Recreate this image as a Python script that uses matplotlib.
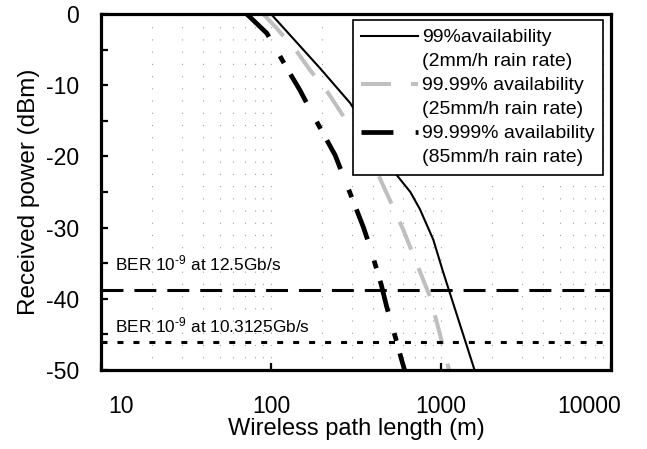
import matplotlib
matplotlib.use('Agg')
import matplotlib.pyplot as plt
import matplotlib.transforms as mtransforms
from matplotlib.lines import Line2D
from matplotlib.ticker import FixedLocator, LogLocator, NullFormatter

plt.rcParams['font.family'] = ['Liberation Sans', 'DejaVu Sans']
plt.rcParams['mathtext.default'] = 'regular'
plt.rcParams['axes.unicode_minus'] = False
plt.rcParams['lines.scale_dashes'] = False

# curve data (path length in m, received power in dBm)
dist_99 = [100, 194, 292, 548, 660, 751, 901, 1028, 1585]
pow_99 = [0, -7.6, -12.5, -22.6, -25.0, -27.4, -31.7, -36.2, -50.2]

dist_9999 = [90, 108, 142, 170, 217, 292, 428, 600, 788, 861, 964, 1130]
pow_9999 = [0, -2, -5.3, -7.9, -11.1, -15.8, -22.6, -30.3, -37.4, -39.7, -44.1, -50.5]

dist_99999 = [72, 94.5, 108, 126, 148, 174, 238, 272, 349, 382, 445, 479, 548, 587, 614]
pow_99999 = [0, -2.7, -5.1, -7.9, -10.7, -13.9, -19.8, -23.3, -29.9, -32.7, -38, -41.1, -46, -48.6, -50.2]

# BER thresholds
ber_125 = -38.7
ber_103 = -46.0

labels_main = ['99%availability', '99.99% availability', '99.999% availability']
labels_sub = ['(2mm/h rain rate)', '(25mm/h rain rate)', '(85mm/h rain rate)']

fig = plt.figure(figsize=(6.47, 4.49), dpi=100)
ax = fig.add_axes([101/647, 1 - 370/449, 510/647, 356/449])

l1, = ax.plot(dist_99, pow_99, color='black', lw=1.5)
l2, = ax.plot(dist_9999, pow_9999, color='#bfbfbf', lw=2.9, dashes=(21.6, 14.4))
l3, = ax.plot(dist_99999, pow_99999, color='black', lw=3.4, dashes=(23, 16, 5.8, 9.4))

ax.axhline(ber_125, color='black', lw=2.2, dashes=(15.8, 7.9))
ax.axhline(ber_103, color='black', lw=2.2, dashes=(4.3, 7.2))

ax.text(12.1, -35.0, 'BER 10$^{\u20109}$ at 12.5Gb/s', fontsize=12.4, va='center')
ax.text(12.1, -43.7, 'BER 10$^{\u20109}$ at 10.3125Gb/s', fontsize=12.4, va='center')

ax.set_xscale('log')
ax.set_xlim(10, 10000)
ax.set_ylim(-50, 0)
ax.set_xticks([10, 100, 1000, 10000])
ax.set_xticklabels(['10', '100', '1000', '10000'])
ax.xaxis.set_minor_locator(LogLocator(base=10, subs=range(2, 10)))
ax.xaxis.set_minor_formatter(NullFormatter())
ax.set_yticks(range(-50, 1, 10))
ax.yaxis.set_minor_locator(FixedLocator(range(-45, 0, 10)))

ax.grid(True, which='both', axis='x', color='#a0a0a0', lw=0.8, dashes=(0.8, 8))
ax.tick_params(axis='both', which='both', direction='in', labelsize=16.6, width=1.6)
ax.tick_params(axis='y', which='both', length=5, pad=16)
ax.tick_params(axis='x', which='major', length=5, pad=18)
ax.tick_params(axis='x', which='minor', length=0)
for s in ax.spines.values():
    s.set_linewidth(2.3)

# outer x labels sit inside the plot edges like in the original
xlabs = ax.get_xticklabels()
xlabs[0].set_transform(xlabs[0].get_transform() + mtransforms.ScaledTranslation(20/100, 0, fig.dpi_scale_trans))
xlabs[-1].set_transform(xlabs[-1].get_transform() + mtransforms.ScaledTranslation(-22/100, 0, fig.dpi_scale_trans))

ax.set_xlabel('Wireless path length (m)', fontsize=17, labelpad=0)
ax.set_ylabel('Received power (dBm)', fontsize=17.5, labelpad=4)

blank = Line2D([], [], lw=0)
leg = ax.legend([l1, blank, l2, blank, l3, blank],
                [labels_main[0], labels_sub[0], labels_main[1], labels_sub[1],
                 labels_main[2], labels_sub[2]],
                loc='upper right', bbox_to_anchor=(603/647, 1 - 20/449),
                bbox_transform=fig.transFigure, borderaxespad=0,
                fontsize=14, handlelength=2.9, handletextpad=0.2,
                labelspacing=0.33, borderpad=0.45, fancybox=False, framealpha=1)
leg.get_frame().set_edgecolor('black')
leg.get_frame().set_linewidth(1.2)

fig.savefig('out.png', dpi=100)
